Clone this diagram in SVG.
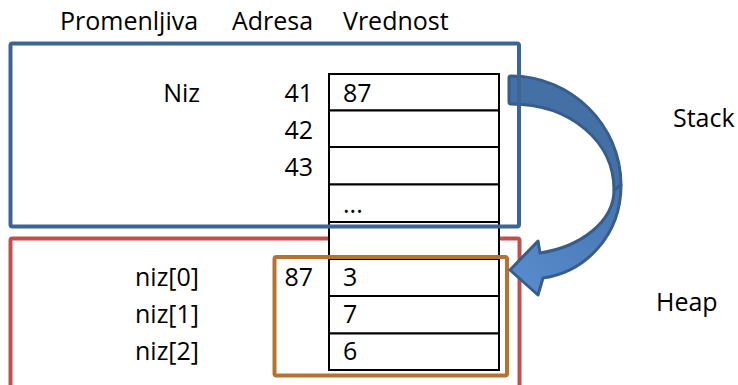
<svg xmlns="http://www.w3.org/2000/svg" width="738" height="385" viewBox="0 0 738 385">
  <style>
    text { font-family: "Open Sans", "Liberation Sans", sans-serif; font-size: 25px; fill: #000; }
    .end { text-anchor: end; }
    .cell { fill: #fff; stroke: #000; stroke-width: 2; }
    .region { fill: none; stroke-width: 4; }
  </style>
  <defs>
    <linearGradient id="arrowFront" x1="0" y1="1" x2="1" y2="0">
      <stop offset="0" stop-color="#5a8ed0"/>
      <stop offset="1" stop-color="#4673ad"/>
    </linearGradient>
  </defs>

  <rect width="738" height="385" fill="#fff"/>

  <!-- column headers -->
  <g id="headers">
    <text x="60" y="30">Promenljiva</text>
    <text x="232" y="30">Adresa</text>
    <text x="343" y="30">Vrednost</text>
  </g>

  <!-- heap region -->
  <g id="heap">
    <rect class="region" x="10.5" y="238.5" width="509" height="170" rx="2" stroke="#c0504d"/>
    <text x="656" y="311">Heap</text>
  </g>

  <!-- memory table -->
  <g id="memory">
    <rect class="cell" x="329" y="74" width="170" height="36.5"/>
    <rect class="cell" x="329" y="110.5" width="170" height="36.5"/>
    <rect class="cell" x="329" y="147" width="170" height="37.5"/>
    <rect class="cell" x="329" y="184.5" width="170" height="37.5"/>
    <rect class="cell" x="329" y="222" width="170" height="37"/>
    <rect class="cell" x="329" y="259" width="170" height="37"/>
    <rect class="cell" x="329" y="296" width="170" height="37.5"/>
    <rect class="cell" x="329" y="333.5" width="170" height="36.5"/>
  </g>

  <!-- stack variable -->
  <g id="var-niz">
    <text class="end" x="200" y="102">Niz</text>
    <text class="end" x="313" y="102">41</text>
    <text x="343" y="102">87</text>
  </g>
  <g id="addr-42"><text class="end" x="313" y="139">42</text></g>
  <g id="addr-43"><text class="end" x="313" y="176">43</text></g>
  <g id="ellipsis"><text x="343" y="213">...</text></g>

  <!-- array elements on the heap -->
  <g id="array-block">
    <rect class="region" x="274.5" y="257" width="232.5" height="118.5" rx="2" stroke="#b7722f" stroke-width="5"/>
    <text class="end" x="313" y="286">87</text>
  </g>
  <g id="niz-0">
    <text class="end" x="199" y="286">niz[0]</text>
    <text x="343" y="286">3</text>
  </g>
  <g id="niz-1">
    <text class="end" x="199" y="323">niz[1]</text>
    <text x="343" y="323">7</text>
  </g>
  <g id="niz-2">
    <text class="end" x="199" y="360">niz[2]</text>
    <text x="343" y="360">6</text>
  </g>

  <!-- pointer from Niz to its elements -->
  <g id="connectors">
    <path d="M 511,76 C 571,76 621,125 621,185 L 614,190 C 614,141 570,104 511,104 Q 509,104 509,102 L 509,78 Q 509,76 511,76 Z"
          fill="#4470a6" stroke="#385d8a" stroke-width="3" stroke-linejoin="round"/>
    <path d="M 621,185 C 621,236 585,272 543,278 L 538,295 L 510,270 L 538,241 L 540,253 C 580,247 614,222 614,190 Z"
          fill="url(#arrowFront)" stroke="#385d8a" stroke-width="3" stroke-linejoin="round"/>
  </g>

  <!-- stack region -->
  <g id="stack">
    <rect class="region" x="10.5" y="43.5" width="508.5" height="183" rx="2" stroke="#3c6494"/>
    <text x="673" y="127">Stack</text>
  </g>
</svg>
